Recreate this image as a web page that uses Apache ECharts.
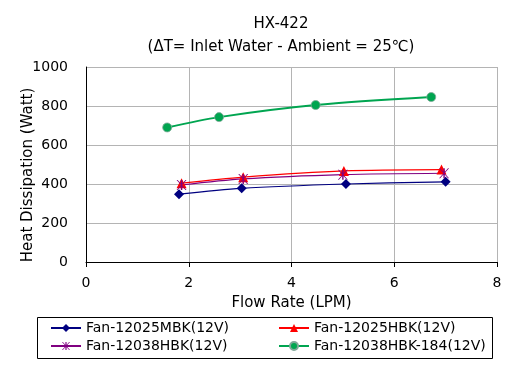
<!DOCTYPE html>
<html>
<head>
<meta charset="utf-8">
<script src="https://cdn.jsdelivr.net/npm/echarts@6/dist/echarts.min.js"></script>
<style>html,body{margin:0;padding:0;background:#fff;}#c{width:515px;height:366px;}</style>
</head>
<body>
<div id="c"></div>
<script>
var seriesNames = ['Fan-12025MBK(12V)', 'Fan-12025HBK(12V)', 'Fan-12038HBK(12V)', 'Fan-12038HBK-184(12V)'];
var mbkX = [1.81, 3.03, 5.06, 7.0];
var mbkY = [348, 378, 400, 411];
var hbkX = [1.86, 3.06, 5.02, 6.92];
var hbkY = [404, 435, 467, 474];
var hbk38X = [1.86, 3.06, 5.0, 6.97];
var hbk38Y = [395, 426, 448, 455];
var hbk184X = [1.58, 2.59, 4.47, 6.72];
var hbk184Y = [690, 743, 805, 846];
var xTicks = [0, 2, 4, 6, 8];
var yTicks = [0, 200, 400, 600, 800, 1000];

function pairs(xs, ys) { return xs.map(function (x, i) { return [x, ys[i]]; }); }

var FONT = 'DejaVu Sans';
var star = 'path://M4.4,0 L5.6,0 L5.6,10 L4.4,10 Z M0.8,0 L1.7,0 L9.2,10 L8.3,10 Z M8.3,0 L9.2,0 L1.7,10 L0.8,10 Z';

var legendText = { fontFamily: FONT, fontSize: 14, color: '#000' };
var legendPos = [[45, 316], [273, 316], [45, 334], [273, 334]];

var chart = echarts.init(document.getElementById('c'));
chart.setOption({
  animation: false,
  backgroundColor: '#fff',
  textStyle: { fontFamily: FONT },
  title: [
    { text: 'HX-422', left: 276, top: 12, textAlign: 'center',
      textStyle: { fontFamily: FONT, fontSize: 15, fontWeight: 'normal', color: '#000' } },
    { text: '(ΔT= Inlet Water - Ambient = 25℃)', left: 276, top: 35, textAlign: 'center',
      textStyle: { fontFamily: FONT, fontSize: 15, fontWeight: 'normal', color: '#000' } }
  ],
  grid: { left: 86, right: 18, top: 67, bottom: 104 },
  xAxis: {
    type: 'value', min: 0, max: 8, interval: 2,
    name: 'Flow Rate (LPM)', nameLocation: 'middle', nameGap: 34,
    nameTextStyle: { fontFamily: FONT, fontSize: 15, color: '#000' },
    axisLine: { lineStyle: { color: '#000', width: 1 } },
    axisTick: { show: true, length: 5, lineStyle: { color: '#000' } },
    axisLabel: { fontFamily: FONT, fontSize: 14, color: '#000', margin: 14,
      formatter: function (v) { return xTicks.indexOf(v) >= 0 ? String(v) : ''; } },
    splitLine: { show: true, lineStyle: { color: '#b4b4b4', width: 1 } }
  },
  yAxis: {
    type: 'value', min: 0, max: 1000, interval: 200,
    axisLine: { show: true, lineStyle: { color: '#000', width: 1 } },
    axisTick: { show: false },
    axisLabel: { fontFamily: FONT, fontSize: 14, color: '#000', margin: 18,
      formatter: function (v) { return yTicks.indexOf(v) >= 0 ? String(v) : ''; } },
    splitLine: { show: true, lineStyle: { color: '#b4b4b4', width: 1 } }
  },
  graphic: [
    { type: 'rect', shape: { x: 37.5, y: 317.5, width: 455, height: 41 },
      style: { fill: 'none', stroke: '#000', lineWidth: 1 }, z: 0 },
    { type: 'text', x: 28, y: 175, rotation: Math.PI / 2,
      style: { text: 'Heat Dissipation (Watt)', font: '15px "DejaVu Sans"', fill: '#000',
        align: 'center', verticalAlign: 'middle' } }
  ],
  legend: seriesNames.map(function (n, i) {
    return { data: [n], left: legendPos[i][0], top: legendPos[i][1], itemWidth: 30, itemHeight: 10,
      textStyle: legendText };
  }),
  series: [
    { name: seriesNames[0], type: 'line', data: pairs(mbkX, mbkY), smooth: 0.3,
      symbol: 'diamond', symbolSize: 10, color: '#000080', lineStyle: { width: 1.2, color: '#000080' } },
    { name: seriesNames[1], type: 'line', data: pairs(hbkX, hbkY), smooth: 0.3,
      symbol: 'triangle', symbolSize: 10, color: '#ff0000', lineStyle: { width: 1.2, color: '#ff0000' } },
    { name: seriesNames[2], type: 'line', data: pairs(hbk38X, hbk38Y), smooth: 0.3,
      symbol: star, symbolSize: 10, color: '#800080', lineStyle: { width: 1.2, color: '#800080' } },
    { name: seriesNames[3], type: 'line', data: pairs(hbk184X, hbk184Y), smooth: 0.3,
      symbol: 'circle', symbolSize: 9, color: '#00a550',
      itemStyle: { color: '#00a550', borderColor: '#7fa898', borderWidth: 0.8 },
      lineStyle: { width: 2, color: '#00a550' } }
  ]
});
</script>
</body>
</html>
